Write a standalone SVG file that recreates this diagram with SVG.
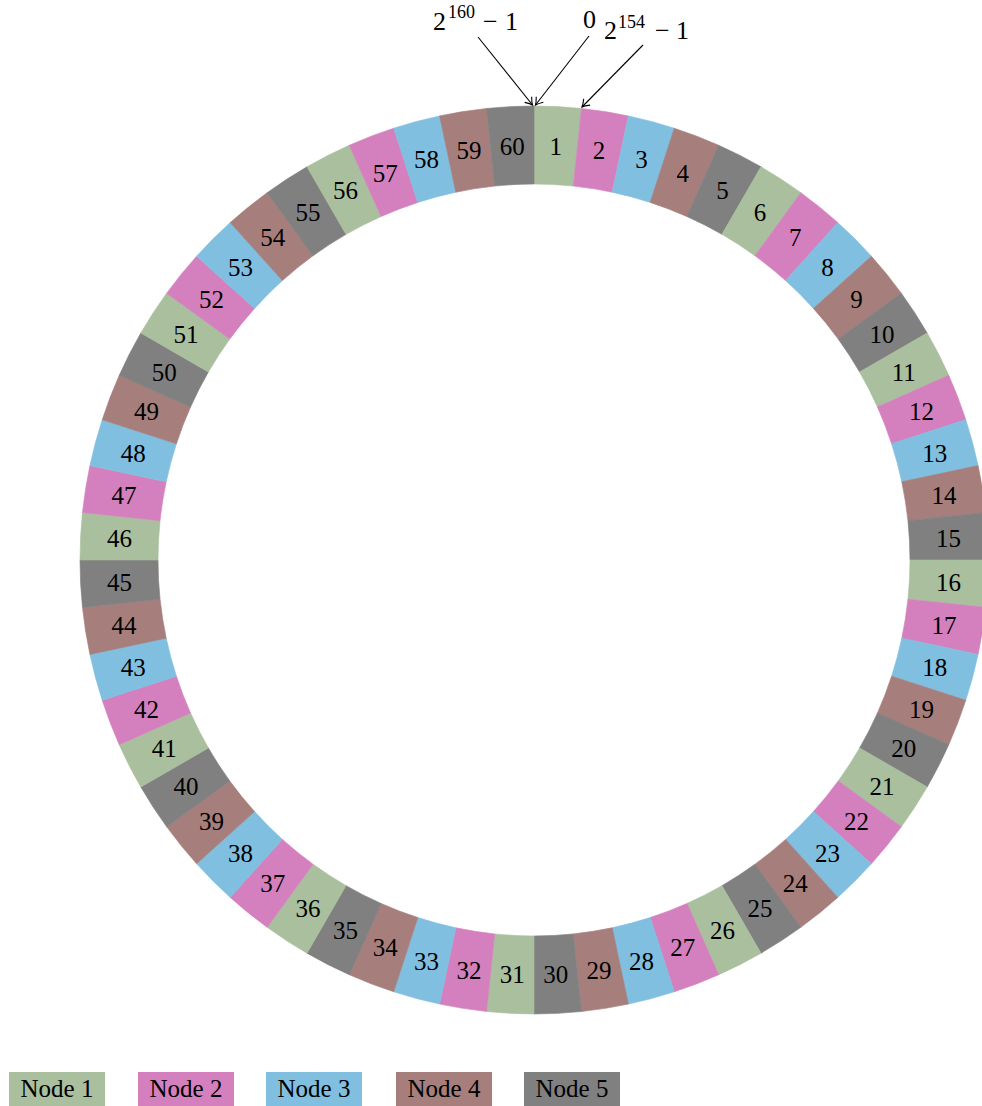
<svg xmlns="http://www.w3.org/2000/svg" xmlns:xlink="http://www.w3.org/1999/xlink" width="982" height="1106" viewBox="0 0 982 1106">
<style>
.c1{fill:#A9BF9D;stroke:#A9BF9D}
.c2{fill:#D580BE;stroke:#D580BE}
.c3{fill:#80BFE0;stroke:#80BFE0}
.c4{fill:#A67F7D;stroke:#A67F7D}
.c5{fill:#808080;stroke:#808080}
use{stroke-width:0.6}
text{font-family:"Liberation Serif","Times New Roman",serif;fill:#000;stroke:none}
.lab{font-size:25px;text-anchor:middle}
.top{font-size:26px}
.sup{font-size:18px}
.leg text{font-size:25px;text-anchor:middle}
.leg rect{stroke:none}
.conn path{fill:none;stroke:#000;stroke-width:1.1}
</style>
<defs>
<path id="wedge" d="M534,106 A454,454 0 0,1 581.456,108.487 L573.303,186.060 A376,376 0 0,0 534,184 Z"/>
<marker id="ah" markerUnits="userSpaceOnUse" markerWidth="14" markerHeight="14" viewBox="-8 -7 10 14" refX="0" refY="0" orient="auto">
<path d="M-7,-4.5 Q-2.5,-1 0,0 Q-2.5,1 -7,4.5" fill="none" stroke="#000" stroke-width="1.1"/>
</marker>
</defs>
<rect width="982" height="1106" fill="#fff"/>
<g id="ring">
<g id="seg-1"><use class="c1" href="#wedge" transform="rotate(0 534 560)"/><text class="lab" x="534" y="154" transform="rotate(3 534 560) rotate(-3 534 145)">1</text></g>
<g id="seg-2"><use class="c2" href="#wedge" transform="rotate(6 534 560)"/><text class="lab" x="534" y="154" transform="rotate(9 534 560) rotate(-9 534 145)">2</text></g>
<g id="seg-3"><use class="c3" href="#wedge" transform="rotate(12 534 560)"/><text class="lab" x="534" y="154" transform="rotate(15 534 560) rotate(-15 534 145)">3</text></g>
<g id="seg-4"><use class="c4" href="#wedge" transform="rotate(18 534 560)"/><text class="lab" x="534" y="154" transform="rotate(21 534 560) rotate(-21 534 145)">4</text></g>
<g id="seg-5"><use class="c5" href="#wedge" transform="rotate(24 534 560)"/><text class="lab" x="534" y="154" transform="rotate(27 534 560) rotate(-27 534 145)">5</text></g>
<g id="seg-6"><use class="c1" href="#wedge" transform="rotate(30 534 560)"/><text class="lab" x="534" y="154" transform="rotate(33 534 560) rotate(-33 534 145)">6</text></g>
<g id="seg-7"><use class="c2" href="#wedge" transform="rotate(36 534 560)"/><text class="lab" x="534" y="154" transform="rotate(39 534 560) rotate(-39 534 145)">7</text></g>
<g id="seg-8"><use class="c3" href="#wedge" transform="rotate(42 534 560)"/><text class="lab" x="534" y="154" transform="rotate(45 534 560) rotate(-45 534 145)">8</text></g>
<g id="seg-9"><use class="c4" href="#wedge" transform="rotate(48 534 560)"/><text class="lab" x="534" y="154" transform="rotate(51 534 560) rotate(-51 534 145)">9</text></g>
<g id="seg-10"><use class="c5" href="#wedge" transform="rotate(54 534 560)"/><text class="lab" x="534" y="154" transform="rotate(57 534 560) rotate(-57 534 145)">10</text></g>
<g id="seg-11"><use class="c1" href="#wedge" transform="rotate(60 534 560)"/><text class="lab" x="534" y="154" transform="rotate(63 534 560) rotate(-63 534 145)">11</text></g>
<g id="seg-12"><use class="c2" href="#wedge" transform="rotate(66 534 560)"/><text class="lab" x="534" y="154" transform="rotate(69 534 560) rotate(-69 534 145)">12</text></g>
<g id="seg-13"><use class="c3" href="#wedge" transform="rotate(72 534 560)"/><text class="lab" x="534" y="154" transform="rotate(75 534 560) rotate(-75 534 145)">13</text></g>
<g id="seg-14"><use class="c4" href="#wedge" transform="rotate(78 534 560)"/><text class="lab" x="534" y="154" transform="rotate(81 534 560) rotate(-81 534 145)">14</text></g>
<g id="seg-15"><use class="c5" href="#wedge" transform="rotate(84 534 560)"/><text class="lab" x="534" y="154" transform="rotate(87 534 560) rotate(-87 534 145)">15</text></g>
<g id="seg-16"><use class="c1" href="#wedge" transform="rotate(90 534 560)"/><text class="lab" x="534" y="154" transform="rotate(93 534 560) rotate(-93 534 145)">16</text></g>
<g id="seg-17"><use class="c2" href="#wedge" transform="rotate(96 534 560)"/><text class="lab" x="534" y="154" transform="rotate(99 534 560) rotate(-99 534 145)">17</text></g>
<g id="seg-18"><use class="c3" href="#wedge" transform="rotate(102 534 560)"/><text class="lab" x="534" y="154" transform="rotate(105 534 560) rotate(-105 534 145)">18</text></g>
<g id="seg-19"><use class="c4" href="#wedge" transform="rotate(108 534 560)"/><text class="lab" x="534" y="154" transform="rotate(111 534 560) rotate(-111 534 145)">19</text></g>
<g id="seg-20"><use class="c5" href="#wedge" transform="rotate(114 534 560)"/><text class="lab" x="534" y="154" transform="rotate(117 534 560) rotate(-117 534 145)">20</text></g>
<g id="seg-21"><use class="c1" href="#wedge" transform="rotate(120 534 560)"/><text class="lab" x="534" y="154" transform="rotate(123 534 560) rotate(-123 534 145)">21</text></g>
<g id="seg-22"><use class="c2" href="#wedge" transform="rotate(126 534 560)"/><text class="lab" x="534" y="154" transform="rotate(129 534 560) rotate(-129 534 145)">22</text></g>
<g id="seg-23"><use class="c3" href="#wedge" transform="rotate(132 534 560)"/><text class="lab" x="534" y="154" transform="rotate(135 534 560) rotate(-135 534 145)">23</text></g>
<g id="seg-24"><use class="c4" href="#wedge" transform="rotate(138 534 560)"/><text class="lab" x="534" y="154" transform="rotate(141 534 560) rotate(-141 534 145)">24</text></g>
<g id="seg-25"><use class="c5" href="#wedge" transform="rotate(144 534 560)"/><text class="lab" x="534" y="154" transform="rotate(147 534 560) rotate(-147 534 145)">25</text></g>
<g id="seg-26"><use class="c1" href="#wedge" transform="rotate(150 534 560)"/><text class="lab" x="534" y="154" transform="rotate(153 534 560) rotate(-153 534 145)">26</text></g>
<g id="seg-27"><use class="c2" href="#wedge" transform="rotate(156 534 560)"/><text class="lab" x="534" y="154" transform="rotate(159 534 560) rotate(-159 534 145)">27</text></g>
<g id="seg-28"><use class="c3" href="#wedge" transform="rotate(162 534 560)"/><text class="lab" x="534" y="154" transform="rotate(165 534 560) rotate(-165 534 145)">28</text></g>
<g id="seg-29"><use class="c4" href="#wedge" transform="rotate(168 534 560)"/><text class="lab" x="534" y="154" transform="rotate(171 534 560) rotate(-171 534 145)">29</text></g>
<g id="seg-30"><use class="c5" href="#wedge" transform="rotate(174 534 560)"/><text class="lab" x="534" y="154" transform="rotate(177 534 560) rotate(-177 534 145)">30</text></g>
<g id="seg-31"><use class="c1" href="#wedge" transform="rotate(180 534 560)"/><text class="lab" x="534" y="154" transform="rotate(183 534 560) rotate(-183 534 145)">31</text></g>
<g id="seg-32"><use class="c2" href="#wedge" transform="rotate(186 534 560)"/><text class="lab" x="534" y="154" transform="rotate(189 534 560) rotate(-189 534 145)">32</text></g>
<g id="seg-33"><use class="c3" href="#wedge" transform="rotate(192 534 560)"/><text class="lab" x="534" y="154" transform="rotate(195 534 560) rotate(-195 534 145)">33</text></g>
<g id="seg-34"><use class="c4" href="#wedge" transform="rotate(198 534 560)"/><text class="lab" x="534" y="154" transform="rotate(201 534 560) rotate(-201 534 145)">34</text></g>
<g id="seg-35"><use class="c5" href="#wedge" transform="rotate(204 534 560)"/><text class="lab" x="534" y="154" transform="rotate(207 534 560) rotate(-207 534 145)">35</text></g>
<g id="seg-36"><use class="c1" href="#wedge" transform="rotate(210 534 560)"/><text class="lab" x="534" y="154" transform="rotate(213 534 560) rotate(-213 534 145)">36</text></g>
<g id="seg-37"><use class="c2" href="#wedge" transform="rotate(216 534 560)"/><text class="lab" x="534" y="154" transform="rotate(219 534 560) rotate(-219 534 145)">37</text></g>
<g id="seg-38"><use class="c3" href="#wedge" transform="rotate(222 534 560)"/><text class="lab" x="534" y="154" transform="rotate(225 534 560) rotate(-225 534 145)">38</text></g>
<g id="seg-39"><use class="c4" href="#wedge" transform="rotate(228 534 560)"/><text class="lab" x="534" y="154" transform="rotate(231 534 560) rotate(-231 534 145)">39</text></g>
<g id="seg-40"><use class="c5" href="#wedge" transform="rotate(234 534 560)"/><text class="lab" x="534" y="154" transform="rotate(237 534 560) rotate(-237 534 145)">40</text></g>
<g id="seg-41"><use class="c1" href="#wedge" transform="rotate(240 534 560)"/><text class="lab" x="534" y="154" transform="rotate(243 534 560) rotate(-243 534 145)">41</text></g>
<g id="seg-42"><use class="c2" href="#wedge" transform="rotate(246 534 560)"/><text class="lab" x="534" y="154" transform="rotate(249 534 560) rotate(-249 534 145)">42</text></g>
<g id="seg-43"><use class="c3" href="#wedge" transform="rotate(252 534 560)"/><text class="lab" x="534" y="154" transform="rotate(255 534 560) rotate(-255 534 145)">43</text></g>
<g id="seg-44"><use class="c4" href="#wedge" transform="rotate(258 534 560)"/><text class="lab" x="534" y="154" transform="rotate(261 534 560) rotate(-261 534 145)">44</text></g>
<g id="seg-45"><use class="c5" href="#wedge" transform="rotate(264 534 560)"/><text class="lab" x="534" y="154" transform="rotate(267 534 560) rotate(-267 534 145)">45</text></g>
<g id="seg-46"><use class="c1" href="#wedge" transform="rotate(270 534 560)"/><text class="lab" x="534" y="154" transform="rotate(273 534 560) rotate(-273 534 145)">46</text></g>
<g id="seg-47"><use class="c2" href="#wedge" transform="rotate(276 534 560)"/><text class="lab" x="534" y="154" transform="rotate(279 534 560) rotate(-279 534 145)">47</text></g>
<g id="seg-48"><use class="c3" href="#wedge" transform="rotate(282 534 560)"/><text class="lab" x="534" y="154" transform="rotate(285 534 560) rotate(-285 534 145)">48</text></g>
<g id="seg-49"><use class="c4" href="#wedge" transform="rotate(288 534 560)"/><text class="lab" x="534" y="154" transform="rotate(291 534 560) rotate(-291 534 145)">49</text></g>
<g id="seg-50"><use class="c5" href="#wedge" transform="rotate(294 534 560)"/><text class="lab" x="534" y="154" transform="rotate(297 534 560) rotate(-297 534 145)">50</text></g>
<g id="seg-51"><use class="c1" href="#wedge" transform="rotate(300 534 560)"/><text class="lab" x="534" y="154" transform="rotate(303 534 560) rotate(-303 534 145)">51</text></g>
<g id="seg-52"><use class="c2" href="#wedge" transform="rotate(306 534 560)"/><text class="lab" x="534" y="154" transform="rotate(309 534 560) rotate(-309 534 145)">52</text></g>
<g id="seg-53"><use class="c3" href="#wedge" transform="rotate(312 534 560)"/><text class="lab" x="534" y="154" transform="rotate(315 534 560) rotate(-315 534 145)">53</text></g>
<g id="seg-54"><use class="c4" href="#wedge" transform="rotate(318 534 560)"/><text class="lab" x="534" y="154" transform="rotate(321 534 560) rotate(-321 534 145)">54</text></g>
<g id="seg-55"><use class="c5" href="#wedge" transform="rotate(324 534 560)"/><text class="lab" x="534" y="154" transform="rotate(327 534 560) rotate(-327 534 145)">55</text></g>
<g id="seg-56"><use class="c1" href="#wedge" transform="rotate(330 534 560)"/><text class="lab" x="534" y="154" transform="rotate(333 534 560) rotate(-333 534 145)">56</text></g>
<g id="seg-57"><use class="c2" href="#wedge" transform="rotate(336 534 560)"/><text class="lab" x="534" y="154" transform="rotate(339 534 560) rotate(-339 534 145)">57</text></g>
<g id="seg-58"><use class="c3" href="#wedge" transform="rotate(342 534 560)"/><text class="lab" x="534" y="154" transform="rotate(345 534 560) rotate(-345 534 145)">58</text></g>
<g id="seg-59"><use class="c4" href="#wedge" transform="rotate(348 534 560)"/><text class="lab" x="534" y="154" transform="rotate(351 534 560) rotate(-351 534 145)">59</text></g>
<g id="seg-60"><use class="c5" href="#wedge" transform="rotate(354 534 560)"/><text class="lab" x="534" y="154" transform="rotate(357 534 560) rotate(-357 534 145)">60</text></g>
</g>
<g id="labels">
<text class="top" y="30"><tspan x="433">2</tspan><tspan class="sup" x="448" y="18">160</tspan><tspan x="483" y="30">−</tspan><tspan x="505" y="30">1</tspan></text>
<text class="top" x="583" y="28">0</text>
<text class="top" y="39"><tspan x="604">2</tspan><tspan class="sup" x="618" y="28">154</tspan><tspan x="655" y="39">−</tspan><tspan x="676" y="39">1</tspan></text>
</g>
<g class="conn" id="connectors">
<path d="M478,37 L532.5,105" marker-end="url(#ah)"/>
<path d="M589,36 L535.5,105" marker-end="url(#ah)"/>
<path d="M643,45 L582,107" marker-end="url(#ah)"/>
</g>
<g class="leg" id="legend">
<g id="legend-1"><rect class="c1" x="9" y="1072" width="96" height="34"/><text x="57" y="1097">Node 1</text></g>
<g id="legend-2"><rect class="c2" x="138" y="1072" width="96" height="34"/><text x="186" y="1097">Node 2</text></g>
<g id="legend-3"><rect class="c3" x="266" y="1072" width="96" height="34"/><text x="314" y="1097">Node 3</text></g>
<g id="legend-4"><rect class="c4" x="396" y="1072" width="96" height="34"/><text x="444" y="1097">Node 4</text></g>
<g id="legend-5"><rect class="c5" x="524" y="1072" width="96" height="34"/><text x="572" y="1097">Node 5</text></g>
</g>
</svg>
